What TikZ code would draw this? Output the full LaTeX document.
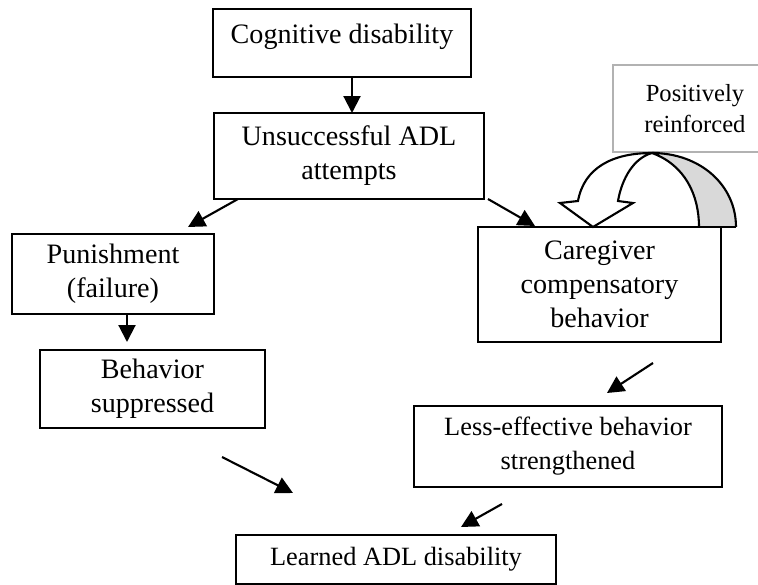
\documentclass[tikz,border=0pt]{standalone}
\usepackage{fontspec}
\setmainfont{Liberation Serif}
\usetikzlibrary{arrows.meta}
\begin{document}
\begin{tikzpicture}[x=0.02cm,y=-0.02cm,
  box/.style={draw,line width=1.2pt,align=center,inner sep=0pt,font=\fontsize{16}{19.3}\selectfont},
  arr/.style={line width=1.2pt,-{Triangle[length=3.4mm,width=3.4mm]}}]
  \useasboundingbox (0,0) rectangle (758,585);
  % boxes
  \node[box,minimum width=5.16cm,minimum height=1.36cm,text depth=0.38cm] (cog) at (342,43) {Cognitive disability};
  \node[box,minimum width=5.40cm,minimum height=1.72cm] (uns) at (349,156) {Unsuccessful ADL\\attempts};
  \node[box,minimum width=4.04cm,minimum height=1.60cm] (pun) at (113,274) {Punishment\\(failure)};
  \node[box,minimum width=4.50cm,minimum height=1.56cm] (sup) at (152.5,389) {Behavior\\suppressed};
  \node[box,minimum width=4.86cm,minimum height=2.30cm] (care) at (599.5,284.5) {Caregiver\\compensatory\\behavior};
  \node[box,minimum width=6.16cm,minimum height=1.62cm,font=\fontsize{15}{19.3}\selectfont] (less) at (568,446.5) {Less-effective behavior\\strengthened};
  \node[box,minimum width=6.40cm,minimum height=0.98cm,font=\fontsize{15}{19.3}\selectfont] (learn) at (396,559.5) {Learned ADL disability};
  \node[box,draw=gray!60,line width=0.6pt,minimum width=3.28cm,minimum height=1.74cm,font=\fontsize{14}{18}\selectfont] (pos) at (695,108.5) {Positively\\reinforced};
  % curved block arrow
  \coordinate (top) at (652,153);
  \fill[gray!30] (top) .. controls (685,165) and (699,195) .. (699,227) -- (736,227)
    .. controls (736,185) and (700,153) .. (top) -- cycle;
  \draw[line width=1.2pt] (top) .. controls (685,165) and (699,195) .. (699,227)
    (736,227) .. controls (736,185) and (700,153) .. (top);
  \draw[line width=1.2pt,fill=white,line join=miter] (578,201) .. controls (584,168) and (612,153) .. (top)
    .. controls (634,158) and (622,178) .. (618,201) -- (633,203) -- (593,227) -- (560,203) -- cycle;
  \draw[line width=1.2pt] (699,227) -- (736,227);
  % arrow ends
  \coordinate (a1s) at (352,77);   \coordinate (a1e) at (352,113);
  \coordinate (a2s) at (238,199);  \coordinate (a2e) at (188,227);
  \coordinate (a3s) at (488,199);  \coordinate (a3e) at (535,226);
  \coordinate (a4s) at (127,314);  \coordinate (a4e) at (127,342);
  \coordinate (a5s) at (222,457);  \coordinate (a5e) at (293,493);
  \coordinate (a6s) at (653,363);  \coordinate (a6e) at (607,393);
  \coordinate (a7s) at (502,504);  \coordinate (a7e) at (461,527);
  \draw[arr] (a1s) -- (a1e);
  \draw[arr] (a2s) -- (a2e);
  \draw[arr] (a3s) -- (a3e);
  \draw[arr] (a4s) -- (a4e);
  \draw[arr] (a5s) -- (a5e);
  \draw[arr] (a6s) -- (a6e);
  \draw[arr] (a7s) -- (a7e);
\end{tikzpicture}
\end{document}
